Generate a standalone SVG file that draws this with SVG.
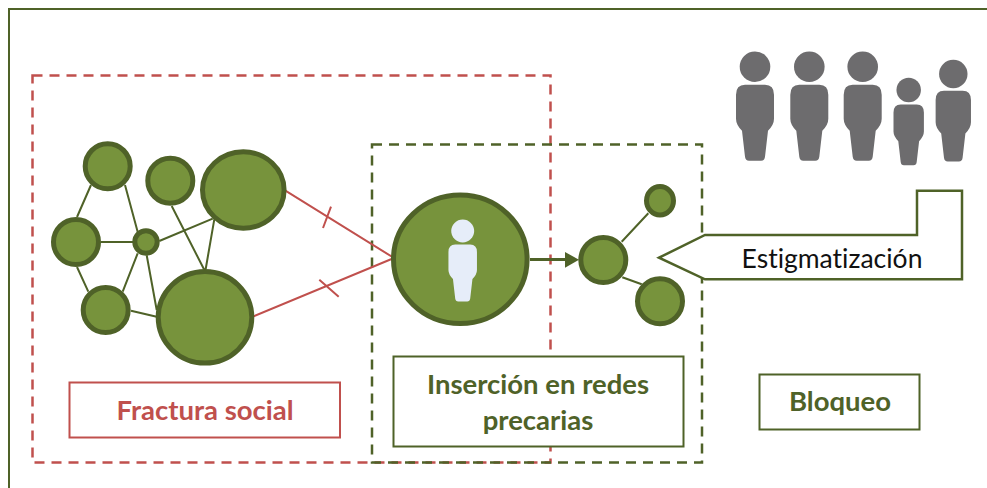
<svg xmlns="http://www.w3.org/2000/svg" width="987" height="488" viewBox="0 0 987 488">
<style>
.n{fill:#77933c;stroke:#4f6228;stroke-width:5}
.l{stroke:#4f6228;stroke-width:2;fill:none}
.r{stroke:#c0504d;stroke-width:2;fill:none}
text{font-variant-ligatures:none}
.t{font-family:"Lato","Liberation Sans",sans-serif;font-weight:700;font-size:27.500px;text-anchor:middle}
.g{fill:#6d6c6e}
</style>
<defs>
<g id="person">
<circle cx="0" cy="0" r="15.3"/>
<path d="M-10,18H10Q19,18 19,28V52Q19,58 13,64L10,90Q9.5,94 6,94H-6Q-9.5,94 -10,90L-13,64Q-19,58 -19,52V28Q-19,18 -10,18Z"/>
</g>
</defs>
<rect width="987" height="488" fill="#fff"/>
<path id="frame" d="M9,488V9H987" fill="none" stroke="#4f6228" stroke-width="2"/>
<rect id="zona-fractura" x="32.500" y="75.500" width="518" height="387" fill="none" stroke="#c0504d" stroke-width="2.500" stroke-dasharray="10 7"/>
<rect id="zona-insercion" x="372" y="144.500" width="330" height="318" fill="none" stroke="#4f6228" stroke-width="2.500" stroke-dasharray="10 7"/>
<g id="connectors">
<path class="l" d="M91,185L77,217M125,185L137.700,232M101,242H133M77,267L88.300,291.700M137.700,253.300L122.700,291.700M159.300,241L212.700,218.700M171.700,206L204,269.300M214.300,219.300L205.700,269M146.700,255.300L156.700,310M131,310.700L156.700,316.700"/>
<path class="r" d="M285,190.300L394,258L252.700,316.700M331,206.700L323,228M319.300,279.700L338.700,296.700"/>
<path class="l" style="stroke-width:3" d="M530,259.500H566"/>
<polygon points="565,252 579,259.700 565,267.700" fill="#4f6228"/>
<path class="l" d="M621.700,241.700L648.300,213.300M622.300,277.300L641.700,284.300"/>
</g>
<g id="n-a"><circle class="n" cx="107.700" cy="166.300" r="22.500"/></g>
<g id="n-b"><circle class="n" cx="170.300" cy="180.700" r="22.500"/></g>
<g id="n-c"><ellipse class="n" cx="243.300" cy="190" rx="40.800" ry="38.200"/></g>
<g id="n-d"><circle class="n" cx="76" cy="242" r="22.500"/></g>
<g id="n-e"><circle class="n" cx="146" cy="242" r="11.200"/></g>
<g id="n-f"><circle class="n" cx="105.700" cy="310" r="22.500"/></g>
<g id="n-g"><ellipse class="n" cx="205" cy="317.300" rx="46.800" ry="45.800"/></g>
<g id="n-central">
<ellipse class="n" cx="460.300" cy="259.300" rx="66.800" ry="64.200"/>
<use href="#person" transform="translate(462.700 231) scale(.75)" fill="#e6edf9"/>
</g>
<g id="n-h"><circle class="n" cx="603.300" cy="260" r="22.500"/></g>
<g id="n-i"><ellipse class="n" cx="660" cy="200.700" rx="13.500" ry="14.200"/></g>
<g id="n-j"><circle class="n" cx="660" cy="301.300" r="22.500"/></g>
<g id="grupo" class="g">
<use href="#person" transform="translate(755 66.700)"/>
<use href="#person" transform="translate(809.300 66.700)"/>
<use href="#person" transform="translate(862.700 66.700)"/>
<use href="#person" transform="translate(908.700 90) scale(.8)"/>
<use href="#person" transform="translate(953.300 74) scale(.93)"/>
</g>
<g id="estigmatizacion">
<path d="M659,257.700L705,235H917V190.700H962V279.300H705Z" fill="#fff" stroke="#4f6228" stroke-width="2.500"/>
<text x="832" y="268" font-family="Lato,'Liberation Sans',sans-serif" font-size="26.500" text-anchor="middle" fill="#111">Estigmatización</text>
</g>
<g id="fractura">
<rect x="69.500" y="382.500" width="270.500" height="55" fill="#fff" stroke="#c0504d" stroke-width="2"/>
<text class="t" x="205" y="420" fill="#c0504d">Fractura social</text>
</g>
<g id="insercion">
<rect x="393.500" y="356.500" width="290" height="90" fill="#fff" stroke="#4f6228" stroke-width="2"/>
<text class="t" x="538" y="394" fill="#4f6228">Inserción en redes</text>
<text class="t" x="538" y="430" fill="#4f6228">precarias</text>
</g>
<g id="bloqueo">
<rect x="759.500" y="374.500" width="160" height="55" fill="#fff" stroke="#4f6228" stroke-width="2"/>
<text class="t" x="840" y="411" fill="#4f6228">Bloqueo</text>
</g>
</svg>
